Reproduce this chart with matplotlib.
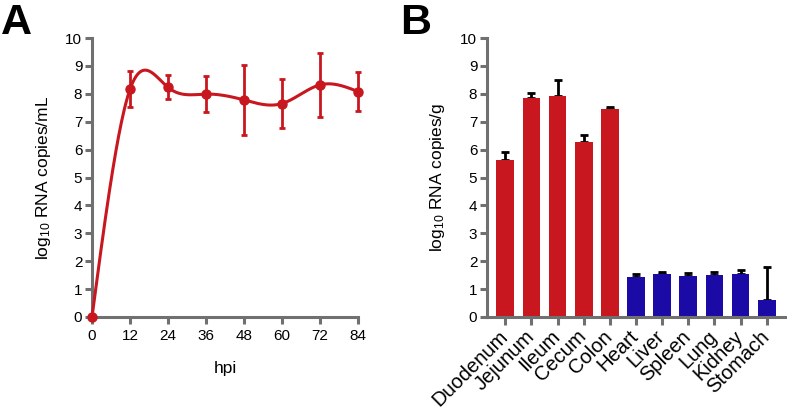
import numpy as np
import matplotlib.pyplot as plt
from matplotlib.transforms import ScaledTranslation

plt.rcParams['font.family'] = ['Liberation Sans', 'DejaVu Sans']
plt.rcParams['mathtext.fontset'] = 'custom'
plt.rcParams['mathtext.rm'] = 'Liberation Sans'
plt.rcParams['mathtext.it'] = 'Liberation Sans:italic'
plt.rcParams['mathtext.default'] = 'regular'

# --- datos panel A: carga viral en sangre ---
hpi = [0, 12, 24, 36, 48, 60, 72, 84]
titer = [0.0, 8.16, 8.23, 7.99, 7.78, 7.65, 8.32, 8.08]
titer_sd = [0.0, 0.64, 0.43, 0.64, 1.27, 0.87, 1.15, 0.69]

# --- datos panel B: carga en tejidos ---
tissues = ['Duodenum', 'Jejunum', 'Ileum', 'Cecum', 'Colon', 'Heart',
           'Liver', 'Spleen', 'Lung', 'Kidney', 'Stomach']
tissue_mean = [5.64, 7.86, 7.93, 6.29, 7.46, 1.43, 1.55, 1.48, 1.50, 1.55, 0.62]
tissue_err = [0.28, 0.17, 0.58, 0.24, 0.07, 0.12, 0.07, 0.11, 0.11, 0.15, 1.16]
intestine = ['Duodenum', 'Jejunum', 'Ileum', 'Cecum', 'Colon']

RED = '#C8171E'
BLUE = '#1C0AA6'
GREY = '#707070'


def natural_spline(x, y, n=400):
    # spline cubico natural (segunda derivada nula en extremos)
    x = np.asarray(x, float)
    y = np.asarray(y, float)
    h = np.diff(x)
    k = len(x)
    A = np.zeros((k, k))
    b = np.zeros(k)
    A[0, 0] = A[-1, -1] = 1
    for i in range(1, k - 1):
        A[i, i - 1] = h[i - 1]
        A[i, i] = 2 * (h[i - 1] + h[i])
        A[i, i + 1] = h[i]
        b[i] = 6 * ((y[i + 1] - y[i]) / h[i] - (y[i] - y[i - 1]) / h[i - 1])
    M = np.linalg.solve(A, b)
    xs = np.linspace(x[0], x[-1], n)
    idx = np.clip(np.searchsorted(x, xs) - 1, 0, k - 2)
    x0, x1 = x[idx], x[idx + 1]
    hh = x1 - x0
    t0, t1 = x1 - xs, xs - x0
    ys = (M[idx] * t0**3 + M[idx + 1] * t1**3) / (6 * hh) \
        + (y[idx] / hh - M[idx] * hh / 6) * t0 \
        + (y[idx + 1] / hh - M[idx + 1] * hh / 6) * t1
    return xs, ys


def style_axes(ax):
    for s in ['top', 'right']:
        ax.spines[s].set_visible(False)
    for s in ['left', 'bottom']:
        ax.spines[s].set_color(GREY)
        ax.spines[s].set_linewidth(2.2)
    ax.tick_params(axis='both', colors=GREY, width=2.2, length=5,
                   labelcolor='black', labelsize=11)


fig = plt.figure(figsize=(7.87, 4.13), dpi=100)

# ---------------- Panel A ----------------
axA = fig.add_axes([92 / 787, 1 - 317 / 413, 266 / 787, 279 / 413])
style_axes(axA)
xs, ys = natural_spline(hpi, titer)
axA.plot(xs, ys, color=RED, lw=2.2, clip_on=False, zorder=3)
sd = np.array(titer_sd)
has_sd = sd > 0
eb = axA.errorbar(np.array(hpi)[has_sd], np.array(titer)[has_sd],
                  yerr=sd[has_sd], fmt='none', ecolor=RED, elinewidth=2,
                  capsize=2.4, capthick=2, zorder=4)
for art in eb.lines[1] + eb.lines[2]:
    art.set_clip_on(False)
axA.plot(hpi, titer, 'o', color=RED, markersize=6.5, clip_on=False, zorder=5)
axA.set_xlim(0, 84)
axA.set_ylim(0, 10)
axA.set_xticks(hpi)
axA.set_yticks(range(0, 11))
axA.tick_params(axis='x', pad=4)
axA.tick_params(axis='y', pad=2)
axA.set_xlabel('hpi', fontsize=12.5)
axA.xaxis.set_label_coords(0.5, -0.158)
axA.set_ylabel(r'log$_{10}$ RNA copies/mL', fontsize=12.5)
axA.yaxis.set_label_coords(-0.147, 0.5)

# ---------------- Panel B ----------------
axB = fig.add_axes([487 / 787, 1 - 317 / 413, 298 / 787, 279 / 413])
style_axes(axB)
pos = np.arange(len(tissues))
colors = [RED if t in intestine else BLUE for t in tissues]
axB.bar(pos, tissue_mean, width=0.68, color=colors, zorder=2)
axB.errorbar(pos, tissue_mean, yerr=[np.zeros(len(pos)), tissue_err],
             fmt='none', ecolor='black', elinewidth=2, capsize=3.2,
             capthick=2, zorder=1)
axB.set_xlim(-0.7, len(tissues) - 0.3)
axB.set_ylim(0, 10)
axB.set_yticks(range(0, 11))
axB.set_xticks(pos)
axB.set_xticklabels(tissues, rotation=45, ha='right', va='top',
                    rotation_mode='anchor', fontsize=14.5)
axB.tick_params(axis='x', length=6, pad=1)
axB.tick_params(axis='y', pad=2)
shift = ScaledTranslation(-5 / 72, 0, fig.dpi_scale_trans)
for lab in axB.get_xticklabels():
    lab.set_transform(lab.get_transform() + shift)
axB.set_ylabel(r'log$_{10}$ RNA copies/g', fontsize=12.5)
axB.yaxis.set_label_coords(-0.134, 0.5)

# letras de panel
fig.text(1 / 787, 1 - 3 / 413, 'A', fontsize=31, fontweight='bold',
         ha='left', va='top')
fig.text(400 / 787, 1 - 3 / 413, 'B', fontsize=31, fontweight='bold',
         ha='left', va='top')

fig.savefig('out.png', dpi=100)
